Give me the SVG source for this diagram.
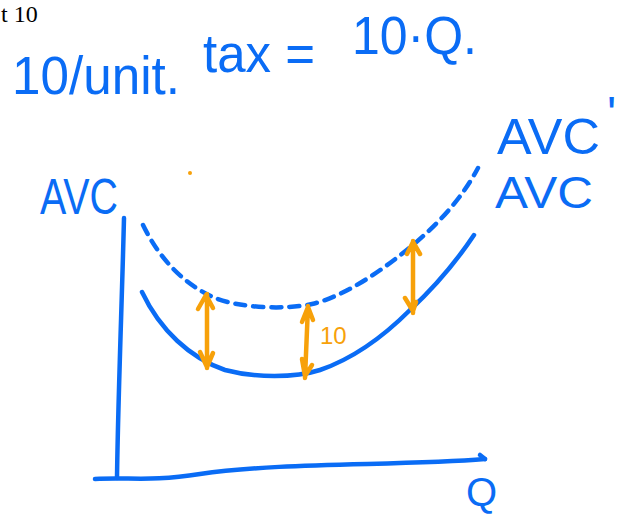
<svg xmlns="http://www.w3.org/2000/svg" width="644" height="514" viewBox="0 0 644 514">
<style>
.blue{fill:none;stroke:#0a6cf5;stroke-width:4.5;stroke-linecap:round;stroke-linejoin:round}
.dash{stroke-dasharray:10 8}
.org{fill:none;stroke:#f7a10a;stroke-width:4.5;stroke-linecap:round;stroke-linejoin:round}
.bt{font-family:"Liberation Sans",Arial,sans-serif;fill:#0a6cf5}
.ot{font-family:"Liberation Sans",Arial,sans-serif;fill:#f7a10a}
</style>
<rect width="644" height="514" fill="#fff"/>
<text x="1" y="22" font-family="Liberation Serif,serif" font-size="24" fill="#000">t 10</text>
<g id="title">
<text class="bt" font-size="54"><tspan x="12" y="94" textLength="168" lengthAdjust="spacingAndGlyphs">10/unit.</tspan><tspan x="203" y="72" textLength="112" lengthAdjust="spacingAndGlyphs">tax =</tspan><tspan x="352" y="54" textLength="125" lengthAdjust="spacingAndGlyphs">10·Q.</tspan></text>
</g>
<g id="axes">
<path class="blue" d="M124,218 C122,300 118,400 117,478"/>
<path class="blue" d="M95,479 C130,477 150,482 200,474 C280,462 400,466 485,459"/>
<path class="blue" d="M480,455 L485,459"/>
</g>
<g id="curves">
<path class="blue dash" d="M143,225 C160,260 185,285 215,298 C240,308 285,310 312,304 C345,296 380,272 413,245 C440,222 462,198 478,168"/>
<path class="blue" d="M142,292 C160,330 190,358 225,370 C255,378 295,378 320,370 C355,358 385,335 410,310 C440,282 460,256 474,235"/>
</g>
<g id="connectors">
<path class="org" d="M207,294 L207,368 M198,309 L206,295 L213,308 M200,352 L207,367 L213,353"/>
<path class="org" d="M308,306 L305,378 M302,322 L308,307 L313,320 M302,359 L305,376 L312,365"/>
<path class="org" d="M413,241 L413,313 M407,254 L413,242 L420,254 M405,298 L413,311 L416,302"/>
<circle cx="190" cy="173" r="2" fill="#f7a10a"/>
</g>
<g id="labels">
<text class="bt" font-size="50" x="40" y="214" textLength="78" lengthAdjust="spacingAndGlyphs">AVC</text>
<text class="bt" font-size="50" x="497" y="154" textLength="103" lengthAdjust="spacingAndGlyphs">AVC</text>
<text class="bt" font-size="48" x="607" y="130">'</text>
<text class="bt" font-size="44" x="495" y="208" textLength="98" lengthAdjust="spacingAndGlyphs">AVC</text>
<text class="bt" font-size="40" x="466" y="506">Q</text>
<text class="ot" font-size="24" x="320" y="344">10</text>
</g>
</svg>
